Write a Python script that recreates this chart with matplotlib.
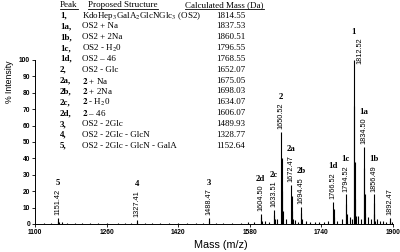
import matplotlib
matplotlib.use('Agg')
import matplotlib.pyplot as plt
from matplotlib.lines import Line2D

# ---------------- data ----------------
# spectrum sticks (m/z, % intensity) including isotope clusters and baseline noise
spec_mz = [1151.42, 1152.4, 1153.4,
           1327.41, 1328.4,
           1488.47, 1489.5,
           1604.50, 1605.5, 1606.5,
           1633.51, 1634.5, 1635.5,
           1650.52, 1651.5, 1652.5, 1653.5,
           1672.47, 1673.5, 1674.5, 1675.5,
           1694.45, 1695.5, 1696.5,
           1766.52, 1767.5, 1768.5,
           1794.52, 1795.5, 1796.5, 1797.5,
           1812.52, 1813.5, 1814.5, 1815.5, 1816.5,
           1834.50, 1835.5, 1836.5, 1837.5,
           1856.49, 1857.5, 1858.5, 1859.5,
           1892.47, 1893.5,
           1120, 1135, 1160, 1172, 1190, 1205, 1222, 1240, 1262, 1285,
           1300, 1315, 1345, 1362, 1380, 1400, 1420, 1440, 1460, 1475,
           1505, 1520, 1540, 1560, 1575, 1590, 1615, 1622, 1640, 1660,
           1680, 1688, 1705, 1715, 1725, 1735, 1745, 1755, 1775, 1785,
           1803, 1808, 1822, 1828, 1845, 1850, 1864, 1870, 1878, 1885, 1898]
spec_int = [3.5, 2.0, 1.0,
            2.5, 1.5,
            3.5, 2.0,
            6.0, 4.0, 2.0,
            8.5, 5.5, 3.0,
            56, 40, 20, 8,
            24, 17, 8, 3,
            10.5, 7, 3,
            13.5, 9, 4,
            18, 12, 6, 2,
            100, 72, 38, 15, 5,
            47, 34, 18, 7,
            18, 13, 6, 2,
            3.5, 2,
            0.8, 0.6, 1.0, 0.8, 0.6, 0.7, 0.5, 0.6, 0.5, 0.6,
            0.5, 0.7, 0.6, 0.5, 0.6, 0.5, 0.6, 0.5, 0.7, 0.6,
            0.8, 0.6, 0.8, 0.7, 1.0, 1.2, 2.0, 1.5, 3.0, 3.0,
            2.5, 1.5, 2.0, 1.5, 1.2, 1.5, 1.5, 2.0, 2.0, 3.0,
            4.0, 3.0, 5.0, 3.0, 4.0, 3.0, 3.0, 2.0, 2.0, 1.5, 1.0]

# labelled peaks
label_mz = [1151.42, 1327.41, 1488.47, 1604.50, 1633.51, 1650.52, 1672.47,
            1694.45, 1766.52, 1794.52, 1812.52, 1834.50, 1856.49, 1892.47]
label_int = [3.5, 2.5, 3.5, 6.0, 8.5, 56, 24, 10.5, 13.5, 18, 100, 47, 18, 3.5]
label_id = ['5', '4', '3', '2d', '2c', '2', '2a', '2b', '1d', '1c', '1', '1a', '1b', '']

# table
tbl_peak = ['1,', '1a,', '1b,', '1c,', '1d,', '2,', '2a,', '2b,', '2c,', '2d,',
            '3,', '4,', '5,']
tbl_struct = ['KdoHep$_3$GalA$_2$GlcNGlc$_3$ (OS2)', 'OS2 + Na', 'OS2 + 2Na',
              'OS2 - H$_2$0', 'OS2 \u2013 46', 'OS2 - Glc',
              '$\\mathbf{2}$ + Na', '$\\mathbf{2}$ + 2Na', '$\\mathbf{2}$ - H$_2$0',
              '$\\mathbf{2}$ \u2013 46', 'OS2 - 2Glc', 'OS2 - 2Glc - GlcN',
              'OS2 - 2Glc - GlcN - GalA']
tbl_mass = [1814.55, 1837.53, 1860.51, 1796.55, 1768.55, 1652.07, 1675.05,
            1698.03, 1634.07, 1606.07, 1489.93, 1328.77, 1152.64]
tbl_header = ['Peak', 'Proposed Structure', 'Calculated Mass (Da)']

x_ticks = [1100, 1260, 1420, 1580, 1740, 1900]
y_ticks = [0, 10, 20, 30, 40, 50, 60, 70, 80, 90, 100]

# ---------------- figure ----------------
plt.rcParams['mathtext.fontset'] = 'stix'
W, H = 400, 252
fig = plt.figure(figsize=(W / 100, H / 100), dpi=100)
ax = fig.add_axes([35 / W, 1 - 224 / H, (393 - 35) / W, (224 - 60) / H])

ax.vlines(spec_mz, 0, spec_int, color='black', lw=0.8)
ax.set_xlim(1100, 1900)
ax.set_ylim(0, 100)
for s in ['top', 'right']:
    ax.spines[s].set_visible(False)
for s in ['left', 'bottom']:
    ax.spines[s].set_linewidth(0.7)
ax.set_xticks(x_ticks)
ax.set_yticks(y_ticks)
ax.tick_params(labelsize=4.8, length=2, width=0.6, pad=1.5)
for lab in ax.get_xticklabels() + ax.get_yticklabels():
    lab.set_family('Liberation Sans')
    lab.set_fontweight('bold')

fig.text(221 / W, 1 - 245 / H, 'Mass (m/z)', family='Liberation Sans',
         fontsize=7.8, ha='center', va='center')
fig.text(10 / W, 1 - 82 / H, '% Intensity', family='Liberation Sans',
         fontsize=6.3, ha='center', va='center', rotation=90)

# peak labels
label_texts = []
for mz, it, pid in zip(label_mz, label_int, label_id):
    dx, dy = (4.5, -3.0) if pid == '1' else (0, 2.0)
    t = ax.annotate(f'{mz:.2f}', xy=(mz, it), xytext=(dx, dy),
                    textcoords='offset points', rotation=90, ha='center',
                    va='bottom', fontsize=5.3, family='Liberation Sans',
                    annotation_clip=False)
    label_texts.append((t, mz, pid))

# table
row_y0, row_dy = 15.5, 10.85
hdr_x = [60, 88, 185]
hdr_texts = []
for hx, h in zip(hdr_x, tbl_header):
    hdr_texts.append(fig.text(hx / W, 1 - 5 / H, h, family='Liberation Serif',
                              fontsize=6.5, ha='left', va='center'))
for i, (p, s, m) in enumerate(zip(tbl_peak, tbl_struct, tbl_mass)):
    y = 1 - (row_y0 + i * row_dy) / H
    fig.text(60 / W, y, p, family='Liberation Serif', fontweight='bold',
             fontsize=6.5, ha='left', va='center')
    fig.text(82 / W, y, s, family='Liberation Serif', fontsize=6.5,
             ha='left', va='center')
    fig.text(216 / W, y, f'{m:.2f}', family='Liberation Serif', fontsize=6.5,
             ha='left', va='center')

fig.canvas.draw()
r = fig.canvas.get_renderer()
for t, mz, pid in label_texts:
    if not pid:
        continue
    bb = t.get_window_extent(r)
    px = ax.transData.transform((mz, 0))[0]
    fig.text(px / W, (bb.y1 + 2) / H, pid, family='Liberation Serif',
             fontweight='bold', fontsize=6.3, ha='center', va='bottom')
for t in hdr_texts:
    bb = t.get_window_extent(r)
    fig.add_artist(Line2D([bb.x0 / W, bb.x1 / W], [(bb.y0 - 0.3) / H] * 2,
                          color='black', lw=0.6))

fig.savefig('out.png', dpi=100)
